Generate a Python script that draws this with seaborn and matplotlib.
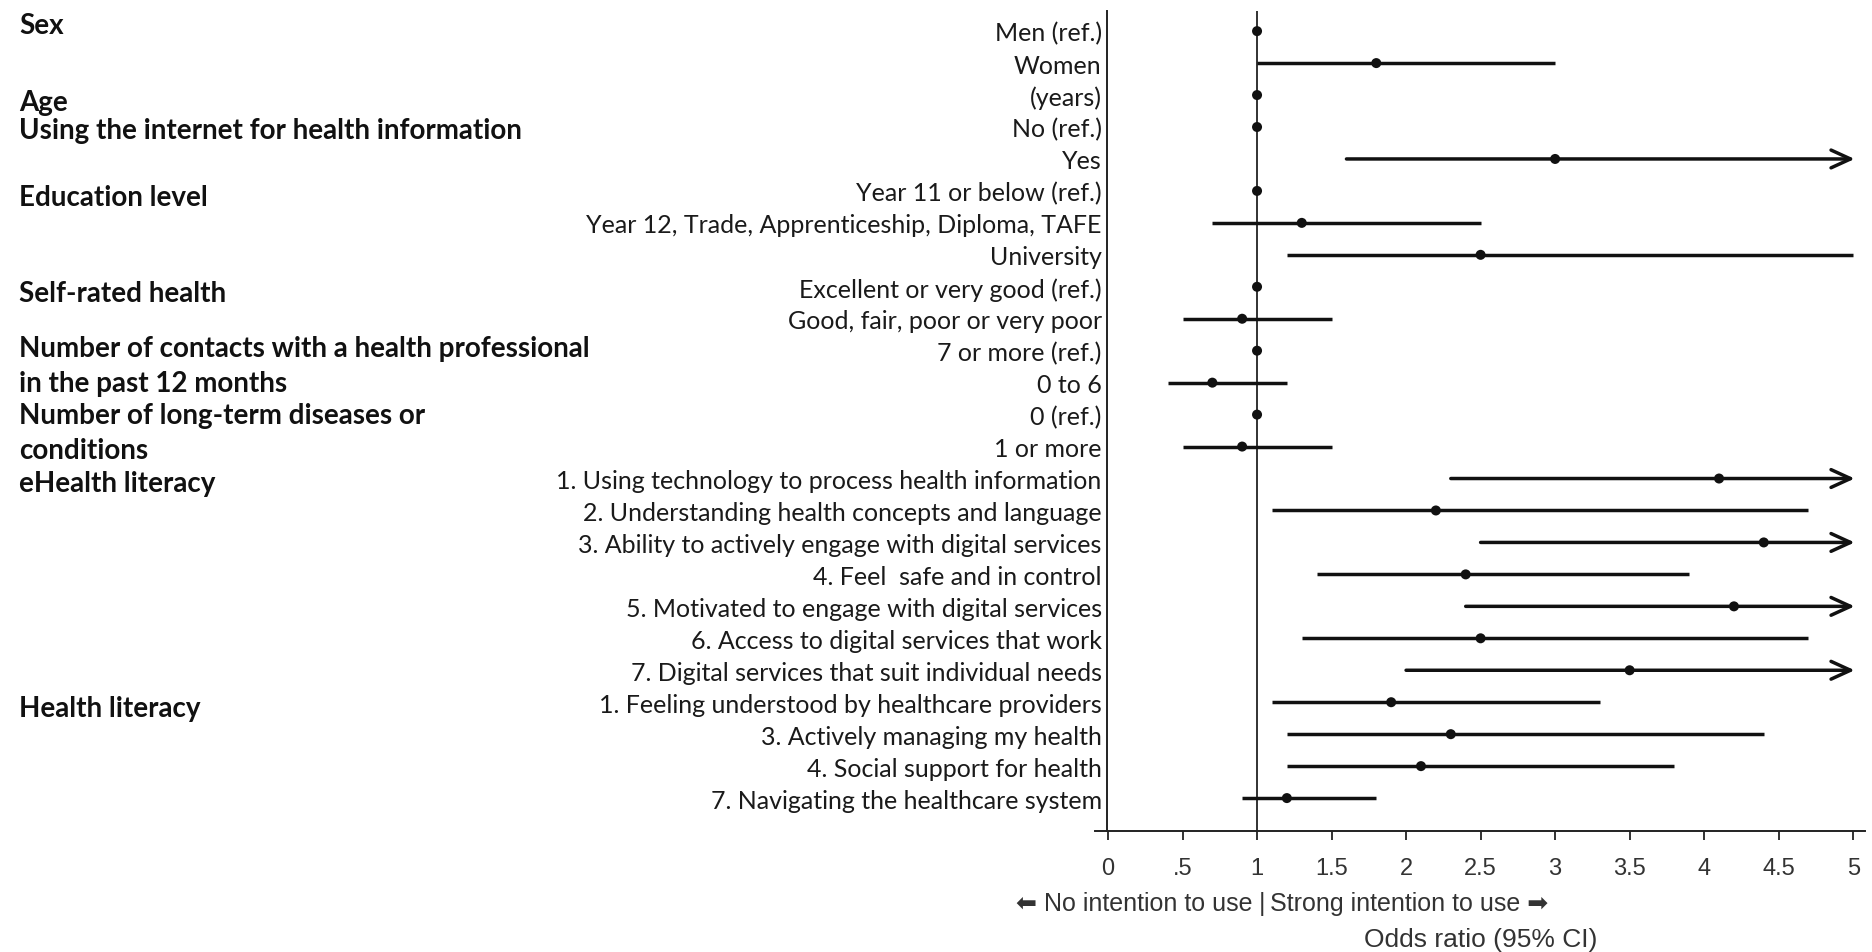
import numpy as np
import pandas as pd
import matplotlib
matplotlib.use("Agg")
import matplotlib.pyplot as plt
import matplotlib.transforms as mtransforms
import seaborn as sns

# Row labels (top to bottom)
labels = [
    "Men (ref.)",
    "Women",
    "(years)",
    "No (ref.)",
    "Yes",
    "Year 11 or below (ref.)",
    "Year 12, Trade, Apprenticeship, Diploma, TAFE",
    "University",
    "Excellent or very good (ref.)",
    "Good, fair, poor or very poor",
    "7 or more (ref.)",
    "0 to 6",
    "0 (ref.)",
    "1 or more",
    "1. Using technology to process health information",
    "2. Understanding health concepts and language",
    "3. Ability to actively engage with digital services",
    "4. Feel  safe and in control",
    "5. Motivated to engage with digital services",
    "6. Access to digital services that work",
    "7. Digital services that suit individual needs",
    "1. Feeling understood by healthcare providers",
    "3. Actively managing my health",
    "4. Social support for health",
    "7. Navigating the healthcare system",
]

# Odds ratios with 95% CI (inf = upper bound beyond the plotted range)
odds_ratio = [1.0, 1.8, 1.0, 1.0, 3.0, 1.0, 1.3, 2.5, 1.0, 0.9, 1.0, 0.7, 1.0, 0.9,
              4.1, 2.2, 4.4, 2.4, 4.2, 2.5, 3.5, 1.9, 2.3, 2.1, 1.2]
ci_lower = [np.nan, 1.0, np.nan, np.nan, 1.6, np.nan, 0.7, 1.2, np.nan, 0.5, np.nan, 0.4,
            np.nan, 0.5, 2.3, 1.1, 2.5, 1.4, 2.4, 1.3, 2.0, 1.1, 1.2, 1.2, 0.9]
ci_upper = [np.nan, 3.0, np.nan, np.nan, np.inf, np.nan, 2.5, 5.0, np.nan, 1.5, np.nan, 1.2,
            np.nan, 1.5, np.inf, 4.7, np.inf, 3.9, np.inf, 4.7, np.inf, 3.3, 4.4, 3.8, 1.8]

# Variable group headings and the row each sits beside
group_titles = [
    "Sex",
    "Age",
    "Using the internet for health information",
    "Education level",
    "Self-rated health",
    "Number of contacts with a health professional",
    "in the past 12 months",
    "Number of long-term diseases or",
    "conditions",
    "eHealth literacy",
    "Health literacy",
]
group_rows = [-0.18, 2.22, 3.08, 5.18, 8.19, 9.92, 11.01, 12.02, 13.11, 14.15, 21.17]

x_ticks = [0, 0.5, 1, 1.5, 2, 2.5, 3, 3.5, 4, 4.5, 5]
x_tick_labels = ["0", ".5", "1", "1.5", "2", "2.5", "3", "3.5", "4", "4.5", "5"]

sns.set_theme(style="white")
plt.rcParams["font.family"] = ["Liberation Sans", "DejaVu Sans"]

W, H = 1872, 953
fig = plt.figure(figsize=(W / 100, H / 100), dpi=100)
ax = fig.add_axes([1094.6 / W, 121 / H, 770.5 / W, 820 / H])

df = pd.DataFrame({
    "label": labels,
    "row": np.arange(len(labels)),
    "or": odds_ratio,
    "lo": ci_lower,
    "hi": ci_upper,
})

X_MAX = 5.0
INK = "#111111"
LW = 2.5

ax.axvline(1, color="#222222", lw=1.3, zorder=1)

ci = df.dropna(subset=["lo"])
closed = ci[np.isfinite(ci["hi"])]
open_ended = ci[~np.isfinite(ci["hi"])]
ax.hlines(closed["row"], closed["lo"], closed["hi"], color=INK, lw=LW, zorder=2)
for _, r in open_ended.iterrows():
    ax.annotate(
        "", xy=(X_MAX + 0.01, r["row"]), xytext=(r["lo"], r["row"]),
        arrowprops=dict(arrowstyle="->,head_length=0.7,head_width=0.32",
                        lw=LW, color=INK, shrinkA=0, shrinkB=0,
                        mutation_scale=20),
        zorder=2,
    )

sns.scatterplot(data=df, x="or", y="row", ax=ax, color=INK, s=52,
                edgecolor="none", zorder=3, legend=False)

# Spine placement first: moving a spine rebuilds the tick objects
for side in ("top", "right"):
    ax.spines[side].set_visible(False)
ax.spines["left"].set_position(("data", -0.01))
for side in ("left", "bottom"):
    ax.spines[side].set_color("#222222")
    ax.spines[side].set_linewidth(1.4)

ax.set_xlim(-0.09, 5.08)
ax.set_ylim(25.03, -0.63)
ax.set_xlabel("")
ax.set_ylabel("")

ax.set_yticks(df["row"], labels=df["label"])
ax.tick_params(axis="y", left=False, length=0, pad=3.5)

ax.set_xticks(x_ticks, labels=x_tick_labels)
ax.tick_params(axis="x", bottom=True, direction="out", length=6.5, width=1.3,
               pad=12, color="#222222", labelsize=17, labelcolor="#333333")

for lbl in ax.get_yticklabels():
    lbl.set_fontfamily("Lato")
    lbl.set_fontsize(18)
    lbl.set_color("#1a1a1a")

# Group headings in the left margin
head_tr = mtransforms.blended_transform_factory(fig.transFigure, ax.transData)
for title, row in zip(group_titles, group_rows):
    fig.text(19 / W, row, title, transform=head_tr, ha="left", va="center",
             fontfamily="Lato", fontweight="bold", fontsize=20, color="#111111")

# Direction note and axis title below the x axis
foot_tr = mtransforms.blended_transform_factory(ax.transData, fig.transFigure)
note_y = (H - 904) / H
fs_note = 18
fig.text(0.97, note_y, "\u2b05 No intention to use", transform=foot_tr,
         ha="right", va="center", fontsize=fs_note, color="#333333")
fig.text(1.03, note_y, "|", transform=foot_tr, ha="center", va="center",
         fontsize=fs_note, color="#333333")
fig.text(1.09, note_y, "Strong intention to use \u27a1", transform=foot_tr,
         ha="left", va="center", fontsize=fs_note, color="#333333")
fig.text(2.5, (H - 940) / H, "Odds ratio (95% CI)", transform=foot_tr,
         ha="center", va="center", fontsize=19, color="#333333")

fig.savefig("out.png", dpi=100, facecolor="white")
